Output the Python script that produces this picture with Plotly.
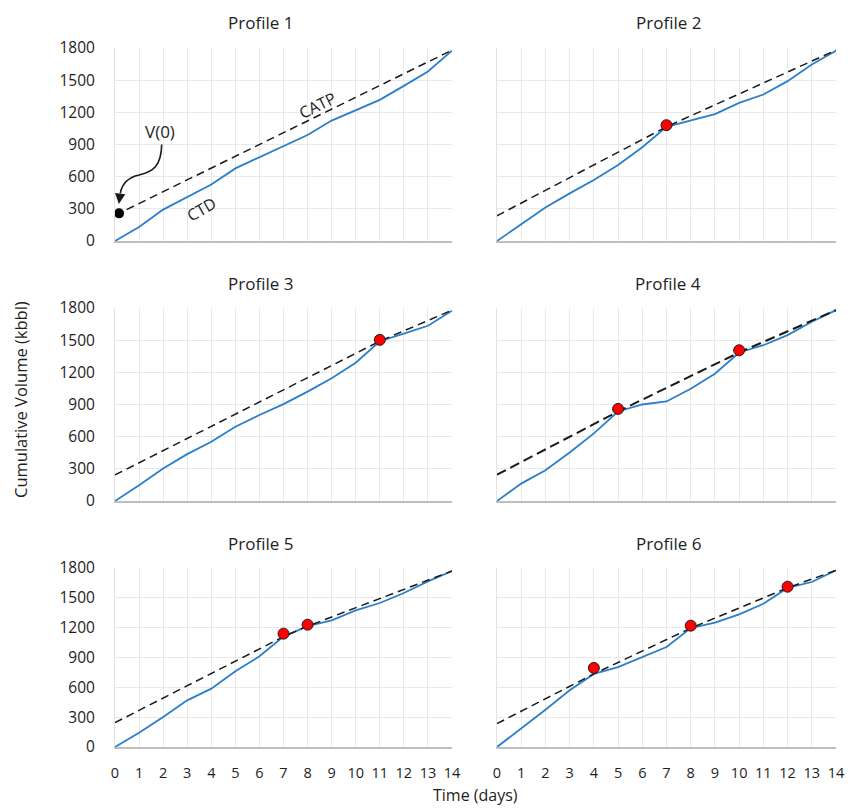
import plotly.graph_objects as go

days = list(range(15))

# CTD (cumulative throughput) per profile, kbbl
ctd_p1 = [0, 131, 293, 412, 527, 677, 780, 880, 989, 1123, 1223, 1316, 1447, 1581, 1775]
ctd_p2 = [0, 156, 312, 444, 569, 709, 875, 1065, 1125, 1184, 1288, 1366, 1491, 1647, 1775]
ctd_p3 = [0, 147, 303, 437, 552, 692, 802, 904, 1020, 1145, 1290, 1490, 1560, 1634, 1775]
ctd_p4 = [0, 162, 287, 453, 631, 835, 900, 928, 1047, 1187, 1385, 1453, 1547, 1672, 1780]
ctd_p5 = [0, 144, 302, 469, 587, 761, 912, 1110, 1215, 1274, 1374, 1448, 1549, 1666, 1770]
ctd_p6 = [0, 184, 375, 570, 735, 804, 905, 1006, 1195, 1250, 1334, 1441, 1600, 1659, 1777]

# CATP knots (dashed line): V(0), touch points, end
catp_days_p1 = [0, 14]
catp_vals_p1 = [240, 1780]
catp_days_p2 = [0, 7, 14]
catp_vals_p2 = [235, 1065, 1780]
catp_days_p3 = [0, 11, 14]
catp_vals_p3 = [243, 1490, 1780]
catp_days_p4 = [0, 5, 10, 14]
catp_vals_p4 = [245, 835, 1385, 1780]
catp_days_p5 = [0, 7, 8, 14]
catp_vals_p5 = [245, 1110, 1215, 1770]
catp_days_p6 = [0, 4, 8, 12, 14]
catp_vals_p6 = [235, 735, 1195, 1600, 1777]

# Red dots (touch points)
dot_days_p2 = [7]
dot_vals_p2 = [1080]
dot_days_p3 = [11]
dot_vals_p3 = [1503]
dot_days_p4 = [5, 10]
dot_vals_p4 = [859, 1406]
dot_days_p5 = [7, 8]
dot_vals_p5 = [1140, 1230]
dot_days_p6 = [4, 8, 12]
dot_vals_p6 = [795, 1220, 1612]

v0_day = [0.17]
v0_val = [258]

titles = ["Profile 1", "Profile 2", "Profile 3", "Profile 4", "Profile 5", "Profile 6"]
y_ticks = [0, 300, 600, 900, 1200, 1500, 1800]
x_ticks = list(range(15))

W, H = 848, 810
FONT = "Open Sans"
TXT = "#1e1e1e"
BLUE = "#2A7FC8"

profiles = [
    (ctd_p1, catp_days_p1, catp_vals_p1, [], []),
    (ctd_p2, catp_days_p2, catp_vals_p2, dot_days_p2, dot_vals_p2),
    (ctd_p3, catp_days_p3, catp_vals_p3, dot_days_p3, dot_vals_p3),
    (ctd_p4, catp_days_p4, catp_vals_p4, dot_days_p4, dot_vals_p4),
    (ctd_p5, catp_days_p5, catp_vals_p5, dot_days_p5, dot_vals_p5),
    (ctd_p6, catp_days_p6, catp_vals_p6, dot_days_p6, dot_vals_p6),
]

col_px = [(115, 452), (497, 836)]
row_px = [(48, 241), (308, 501), (568, 747)]

fig = go.Figure()
layout = dict(
    width=W, height=H, margin=dict(l=0, r=0, t=0, b=0, autoexpand=False),
    paper_bgcolor="white", plot_bgcolor="white", showlegend=False,
    font=dict(family=FONT, size=15, color=TXT),
)
annotations = []
shapes = []

for i, (ctd, cd, cv, dd, dv) in enumerate(profiles):
    r, c = divmod(i, 2)
    n = "" if i == 0 else str(i + 1)
    xa, ya = "x" + n, "y" + n
    x0, x1 = col_px[c]
    y0, y1 = row_px[r]
    layout["xaxis" + n] = dict(
        domain=[x0 / W, x1 / W], range=[0, 14], tickvals=x_ticks,
        showgrid=True, gridcolor="#E9E9E9", gridwidth=1, zeroline=False,
        showline=True, linecolor="#BFBFBF", linewidth=1.5,
        showticklabels=(r == 2), ticks="", ticklabelstandoff=12,
        tickfont=dict(size=14.5, color=TXT), anchor=ya, fixedrange=True,
        automargin=False,
    )
    layout["yaxis" + n] = dict(
        domain=[1 - y1 / H, 1 - y0 / H], range=[0, 1800], tickvals=y_ticks,
        showgrid=True, gridcolor="#E9E9E9", gridwidth=1, zeroline=False,
        showline=True, linecolor="#E2E2E2", linewidth=1,
        showticklabels=(c == 0), ticks="", ticklabelstandoff=16,
        tickfont=dict(size=15.5, color=TXT), anchor=xa, fixedrange=True,
        automargin=False,
    )
    fig.add_trace(go.Scatter(x=days, y=ctd, mode="lines", xaxis=xa, yaxis=ya,
                             line=dict(color=BLUE, width=1.8), cliponaxis=False))
    fig.add_trace(go.Scatter(x=cd, y=cv, mode="lines", xaxis=xa, yaxis=ya,
                             line=dict(color="#1a1a1a", width=2.0 if i == 3 else 1.5,
                                       dash="10px,5px" if i == 3 else "8px,5px")))
    if dd:
        fig.add_trace(go.Scatter(x=dd, y=dv, mode="markers", xaxis=xa, yaxis=ya,
                                 marker=dict(color="#FF0000", size=11,
                                             line=dict(color="#202020", width=1)),
                                 cliponaxis=False))
    tx = 260 if c == 0 else 668
    ty = row_px[r][0] - 25
    annotations.append(dict(text=titles[i], x=tx / W, y=1 - ty / H, xref="paper", yref="paper",
                            showarrow=False, font=dict(size=17, color=TXT),
                            xanchor="center", yanchor="middle"))

# V(0) point
fig.add_trace(go.Scatter(x=v0_day, y=v0_val, mode="markers", xaxis="x", yaxis="y",
                         marker=dict(color="black", size=10), cliponaxis=False))

# curved arrow from V(0) label to the point
shapes.append(dict(type="path", xref="x", yref="y",
                   path="M 1.94,900 C 1.92,700 1.6,650 1.0,615 C 0.5,590 0.28,520 0.22,445",
                   line=dict(color="#1a1a1a", width=1.6)))
annotations.append(dict(x=0.16, y=345, ax=0.22, ay=450, xref="x", yref="y", axref="x", ayref="y",
                        text="", showarrow=True, arrowhead=2, arrowsize=1.3, arrowwidth=1.6,
                        arrowcolor="#1a1a1a"))
annotations.append(dict(x=1.87, y=1020, xref="x", yref="y", text="V(0)", showarrow=False,
                        font=dict(size=17, color=TXT)))
annotations.append(dict(x=8.43, y=1268, xref="x", yref="y", text="CATP", showarrow=False,
                        textangle=-26, font=dict(size=16, color=TXT)))
annotations.append(dict(x=3.6, y=300, xref="x", yref="y", text="CTD", showarrow=False,
                        textangle=-30, font=dict(size=16, color=TXT)))

# axis titles
annotations.append(dict(text="Cumulative Volume (kbbl)", x=20 / W, y=1 - 400 / H,
                        xref="paper", yref="paper", showarrow=False, textangle=-90,
                        xanchor="center", yanchor="middle",
                        font=dict(size=16.5, color=TXT)))
annotations.append(dict(text="Time (days)", x=475 / W, y=1 - 795 / H,
                        xref="paper", yref="paper", showarrow=False,
                        xanchor="center", yanchor="middle",
                        font=dict(size=16, color=TXT)))

layout["annotations"] = annotations
layout["shapes"] = shapes
fig.update_layout(**layout)
fig.write_html("out.html")
